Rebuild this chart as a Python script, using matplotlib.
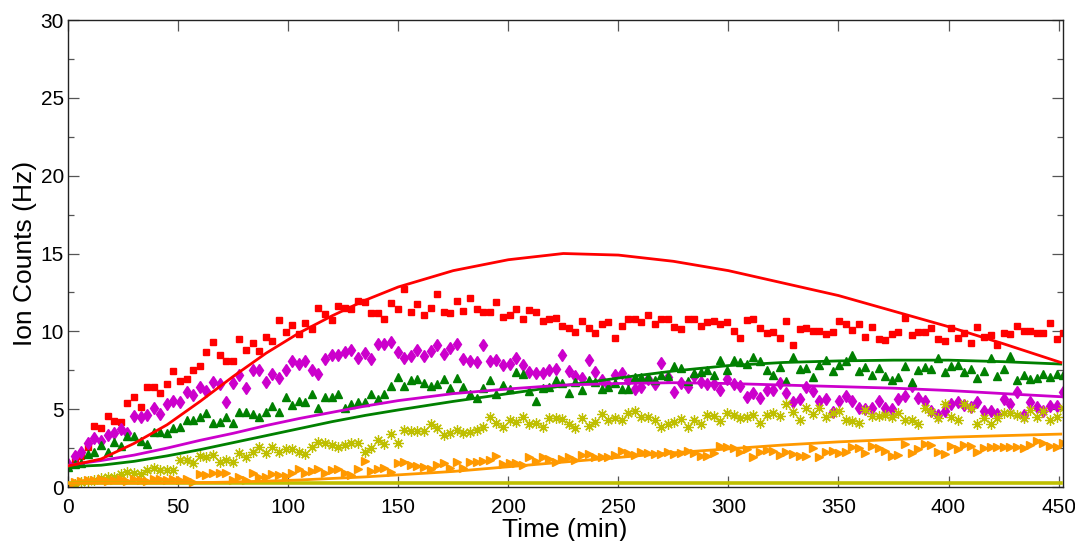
import numpy as np
import matplotlib
matplotlib.use("Agg")
import matplotlib.pyplot as plt
from matplotlib.ticker import MultipleLocator

plt.rcParams["font.family"] = ["Liberation Sans", "DejaVu Sans"]

# sampling grid for the measured counts (~3 min per point)
time_min = np.arange(152) * 2.994

counts_red = [1.35, 1.7, 2.0, 2.55, 3.92, 3.81, 4.58, 4.26, 4.2, 5.42,
              5.76, 5.12, 6.45, 6.4, 6.02, 6.62, 7.45, 6.83, 6.92, 7.49,
              7.77, 8.69, 9.34, 8.5, 8.09, 8.09, 9.5, 8.82, 9.23, 8.74,
              9.66, 9.4, 10.73, 9.96, 10.4, 9.83, 10.54, 10.15, 11.5, 11.09,
              10.7, 11.63, 11.48, 11.43, 11.97, 11.9, 11.2, 11.2, 10.81, 11.8,
              11.46, 12.7, 11.24, 11.73, 11.05, 11.5, 12.42, 11.22, 11.16, 11.95,
              11.33, 12.12, 11.41, 11.26, 11.24, 11.9, 10.94, 11.03, 11.46, 10.77,
              11.35, 11.24, 10.66, 10.79, 10.84, 10.36, 10.24, 9.96, 10.66, 10.24,
              9.87, 10.49, 10.62, 9.57, 10.32, 10.79, 10.79, 10.6, 11.03, 10.49,
              10.79, 10.79, 10.28, 10.13, 10.79, 10.79, 10.34, 10.6, 10.66, 10.45,
              10.6, 10.0, 9.57, 10.75, 10.79, 10.24, 9.87, 9.96, 9.57, 10.66,
              9.12, 10.13, 10.24, 10.04, 10.0, 9.83, 9.96, 10.66, 10.45, 10.09,
              10.49, 9.66, 10.28, 9.5, 9.46, 9.83, 9.96, 10.83, 9.74, 9.96,
              9.96, 10.24, 9.49, 9.38, 10.24, 9.57, 9.87, 9.27, 10.28, 9.61,
              9.79, 9.14, 9.91, 9.83, 10.34, 10.04, 10.04, 9.91, 9.91, 10.53,
              9.53, 9.91]

counts_magenta = [1.45, 2.0, 2.27, 2.8, 3.13, 2.95, 3.34, 3.49, 3.73, 3.49,
                  4.54, 4.52, 4.63, 5.05, 4.69, 5.33, 5.55, 5.44, 6.1, 5.91,
                  6.4, 6.17, 6.77, 6.62, 5.44, 6.7, 7.19, 6.38, 7.49, 7.49,
                  6.72, 7.26, 7.02, 7.49, 8.12, 7.88, 8.07, 7.49, 7.26, 8.22,
                  8.46, 8.5, 8.65, 8.8, 8.31, 8.61, 8.2, 9.16, 9.16, 9.31,
                  8.67, 8.29, 8.42, 8.82, 8.42, 8.74, 9.1, 8.57, 8.93, 9.19,
                  8.24, 8.12, 8.03, 9.12, 8.12, 8.16, 7.84, 7.88, 8.31, 7.82,
                  7.39, 7.3, 7.3, 7.54, 7.58, 8.5, 7.47, 7.15, 7.02, 8.16,
                  7.39, 6.85, 6.53, 7.22, 7.34, 6.85, 6.3, 6.4, 6.96, 6.64,
                  7.94, 7.09, 6.08, 6.7, 6.4, 7.15, 6.77, 6.64, 6.64, 6.25,
                  6.92, 6.6, 6.49, 5.8, 6.02, 5.7, 6.25, 6.23, 6.66, 6.06,
                  5.46, 5.65, 6.4, 6.17, 5.5, 5.65, 4.84, 5.55, 5.85, 5.55,
                  5.05, 4.99, 5.1, 5.55, 5.1, 5.03, 5.63, 5.85, 6.49, 5.7,
                  5.55, 4.88, 4.63, 4.88, 5.33, 5.48, 5.25, 5.14, 5.46, 4.88,
                  4.88, 4.69, 5.63, 5.33, 6.12, 4.63, 5.46, 5.16, 4.88, 5.2,
                  5.2, 6.08]

counts_green = [1.3, 1.45, 1.56, 2.12, 2.27, 2.7, 2.27, 2.87, 2.66, 3.3,
                3.3, 2.93, 2.74, 3.51, 3.51, 3.45, 3.77, 3.88, 4.33, 4.33,
                4.52, 4.73, 4.13, 4.2, 4.48, 4.09, 4.8, 4.8, 4.69, 4.52,
                4.8, 5.18, 4.8, 5.76, 5.27, 5.55, 5.44, 5.95, 5.1, 5.8,
                5.8, 6.0, 5.1, 5.33, 5.44, 5.48, 6.0, 5.63, 6.0, 6.51,
                7.07, 6.49, 6.85, 6.94, 6.7, 6.49, 6.6, 6.96, 6.36, 7.02,
                6.42, 5.95, 5.7, 6.34, 6.87, 5.97, 6.53, 6.27, 7.39, 7.24,
                6.17, 5.55, 6.38, 6.45, 6.85, 6.68, 6.06, 6.75, 6.23, 6.87,
                6.77, 6.3, 6.45, 6.7, 6.3, 6.3, 7.09, 7.05, 7.07, 6.87,
                7.2, 7.15, 7.77, 7.67, 6.81, 7.3, 7.4, 7.52, 7.2, 8.16,
                7.52, 8.16, 8.05, 7.9, 8.33, 8.09, 7.52, 7.2, 7.69, 6.81,
                8.33, 7.56, 7.62, 7.07, 7.82, 8.16, 7.47, 7.86, 8.07, 8.46,
                7.47, 7.69, 7.2, 7.64, 7.15, 6.87, 7.05, 7.79, 6.77, 7.52,
                7.73, 7.56, 8.27, 7.37, 7.77, 7.84, 7.41, 7.56, 7.02, 7.45,
                8.27, 7.13, 7.6, 8.44, 6.87, 7.2, 6.94, 7.02, 7.24, 7.09,
                7.24, 7.2]

counts_yellow = [0.0, 0.2, 0.3, 0.4, 0.45, 0.55, 0.62, 0.66, 0.81, 0.94,
                 0.88, 0.81, 1.09, 1.2, 1.09, 1.09, 1.09, 1.73, 1.73, 1.52,
                 2.01, 1.95, 2.08, 1.58, 1.73, 1.6, 2.16, 1.95, 2.27, 2.55,
                 2.16, 2.55, 2.27, 2.44, 2.44, 2.27, 2.12, 2.55, 2.87, 2.8,
                 2.7, 2.55, 2.7, 2.85, 2.8, 2.27, 2.48, 3.02, 2.74, 3.4,
                 2.8, 3.66, 3.6, 3.6, 3.6, 4.03, 3.77, 3.34, 3.49, 3.66,
                 3.49, 3.55, 3.66, 3.88, 4.48, 4.09, 3.88, 4.3, 4.15, 4.52,
                 4.05, 4.09, 3.88, 4.41, 4.41, 4.35, 4.05, 3.77, 4.41, 3.94,
                 4.15, 4.69, 4.3, 4.41, 4.3, 4.73, 4.9, 4.52, 4.52, 4.3,
                 3.88, 4.03, 4.2, 4.35, 3.88, 4.3, 4.03, 4.63, 4.56, 4.26,
                 4.73, 4.63, 4.41, 4.48, 4.63, 4.13, 4.63, 4.73, 4.56, 5.31,
                 4.84, 4.3, 5.05, 4.69, 5.05, 4.52, 4.78, 4.9, 4.3, 4.26,
                 4.09, 4.95, 4.58, 4.58, 4.63, 4.52, 4.78, 4.3, 4.3, 4.05,
                 5.05, 4.84, 4.41, 5.33, 4.52, 4.3, 5.33, 5.05, 4.05, 4.41,
                 4.05, 4.41, 4.73, 4.73, 4.63, 4.41, 4.95, 4.52, 4.9, 4.3,
                 4.52, 5.05]

counts_orange = [0.15, 0.3, 0.38, 0.45, 0.45, 0.51, 0.38, 0.45, 0.49, 0.38,
                 0.51, 0.45, 0.38, 0.49, 0.49, 0.45, 0.49, 0.45, 0.49, 0.34,
                 0.81, 0.77, 0.88, 0.88, 0.92, 0.45, 0.66, 0.45, 0.92, 0.66,
                 0.62, 0.84, 0.77, 0.71, 0.92, 1.13, 0.88, 1.05, 1.16, 0.88,
                 1.09, 1.13, 0.88, 0.77, 1.13, 1.69, 1.03, 1.13, 1.2, 0.94,
                 1.52, 1.63, 1.41, 1.35, 1.31, 1.16, 1.41, 1.52, 1.2, 1.63,
                 1.2, 1.58, 1.58, 1.67, 1.73, 1.99, 1.48, 1.56, 1.56, 1.41,
                 1.95, 1.67, 1.95, 1.8, 1.63, 1.8, 1.95, 1.73, 2.06, 2.12,
                 1.95, 1.9, 1.95, 2.06, 2.33, 2.16, 2.06, 2.23, 2.16, 2.12,
                 2.12, 2.23, 2.12, 2.16, 2.33, 2.16, 1.99, 2.01, 2.2, 2.66,
                 2.59, 2.53, 2.25, 2.42, 1.9, 2.27, 2.38, 2.33, 2.06, 2.27,
                 2.12, 2.01, 2.01, 2.48, 1.9, 2.27, 2.33, 2.16, 2.27, 2.59,
                 2.48, 2.16, 2.66, 2.48, 2.31, 2.01, 2.06, 2.76, 2.2, 2.42,
                 2.76, 2.7, 2.27, 2.12, 2.66, 2.42, 2.7, 2.66, 2.27, 2.48,
                 2.59, 2.59, 2.59, 2.59, 2.59, 2.48, 2.7, 2.98, 2.8, 2.66,
                 2.55, 2.85]

# model curves, sampled every 15-25 min
fit_time = [0, 15, 30, 45, 60, 75, 90, 105, 120, 135, 150, 175, 200,
            225, 250, 275, 300, 325, 350, 375, 400, 425, 451]
fit_red = [1.35, 1.8, 2.8, 4.0, 5.5, 7.1, 8.6, 9.9, 11.0, 12.0, 12.85, 13.9, 14.6,
           15.0, 14.9, 14.5, 13.9, 13.1, 12.3, 11.3, 10.3, 9.2, 8.0]
fit_magenta = [1.4, 1.7, 2.05, 2.5, 3.0, 3.45, 3.95, 4.4, 4.8, 5.2, 5.55, 6.0, 6.3,
               6.55, 6.65, 6.7, 6.65, 6.55, 6.45, 6.35, 6.2, 6.0, 5.8]
fit_green = [1.3, 1.4, 1.65, 2.0, 2.4, 2.85, 3.3, 3.75, 4.2, 4.6, 4.95, 5.5, 6.0,
             6.5, 7.0, 7.45, 7.8, 8.0, 8.1, 8.15, 8.15, 8.05, 7.9]
fit_orange = [0.25, 0.25, 0.25, 0.26, 0.28, 0.32, 0.38, 0.45, 0.55, 0.65, 0.78, 1.0, 1.3,
              1.6, 1.9, 2.2, 2.45, 2.7, 2.9, 3.05, 3.2, 3.3, 3.4]
fit_yellow = [0.28] * len(fit_time)

RED = "#ff0000"
MAG = "#cc00cc"
GRN = "#008000"
YEL = "#bfbf00"
ORG = "#ff9900"

fig = plt.figure(figsize=(10.75, 5.41), dpi=100)
ax = fig.add_axes([0.0633, 0.0998, 0.9255, 0.8632])

ax.plot(time_min, counts_red, "s", color=RED, ms=4.6, mec=RED, zorder=2)
ax.plot(time_min, counts_magenta, "d", color=MAG, ms=6.0, mec=MAG, zorder=2)
ax.plot(time_min, counts_green, "^", color=GRN, ms=6.0, mec=GRN, zorder=2)
ax.plot(time_min, counts_yellow, marker=(8, 2, 0), ls="none", color=YEL,
        ms=7.5, mew=0.9, zorder=2)
ax.plot(time_min, counts_orange, ">", color=ORG, ms=6.0, mec=ORG, zorder=2)

ax.plot(fit_time, fit_yellow, color=YEL, lw=2.6, zorder=3)
ax.plot(fit_time, fit_orange, color=ORG, lw=2.0, zorder=3)
ax.plot(fit_time, fit_green, color=GRN, lw=2.0, zorder=3)
ax.plot(fit_time, fit_magenta, color=MAG, lw=2.0, zorder=3)
ax.plot(fit_time, fit_red, color=RED, lw=2.0, zorder=3)

ax.set_xlim(0, 452)
ax.set_ylim(0, 30)
ax.xaxis.set_major_locator(MultipleLocator(50))
ax.yaxis.set_major_locator(MultipleLocator(5))
ax.yaxis.set_minor_locator(MultipleLocator(2.5))
ax.tick_params(which="both", direction="in", top=True, right=True,
               labelsize=15, color="#555555")
ax.tick_params(which="major", length=8, width=0.9)
ax.tick_params(which="minor", length=4, width=0.9)
ax.tick_params(axis="x", which="major", pad=8)
ax.tick_params(axis="y", which="major", pad=3)
for s in ax.spines.values():
    s.set_color("#222222")
    s.set_linewidth(1.0)

ax.set_xlabel("Time (min)", fontsize=19)
ax.xaxis.set_label_coords(0.4995, -0.066)
ax.set_ylabel("Ion Counts (Hz)", fontsize=19)
ax.yaxis.set_label_coords(-0.031, 0.5)

fig.savefig("out.png", dpi=100)
